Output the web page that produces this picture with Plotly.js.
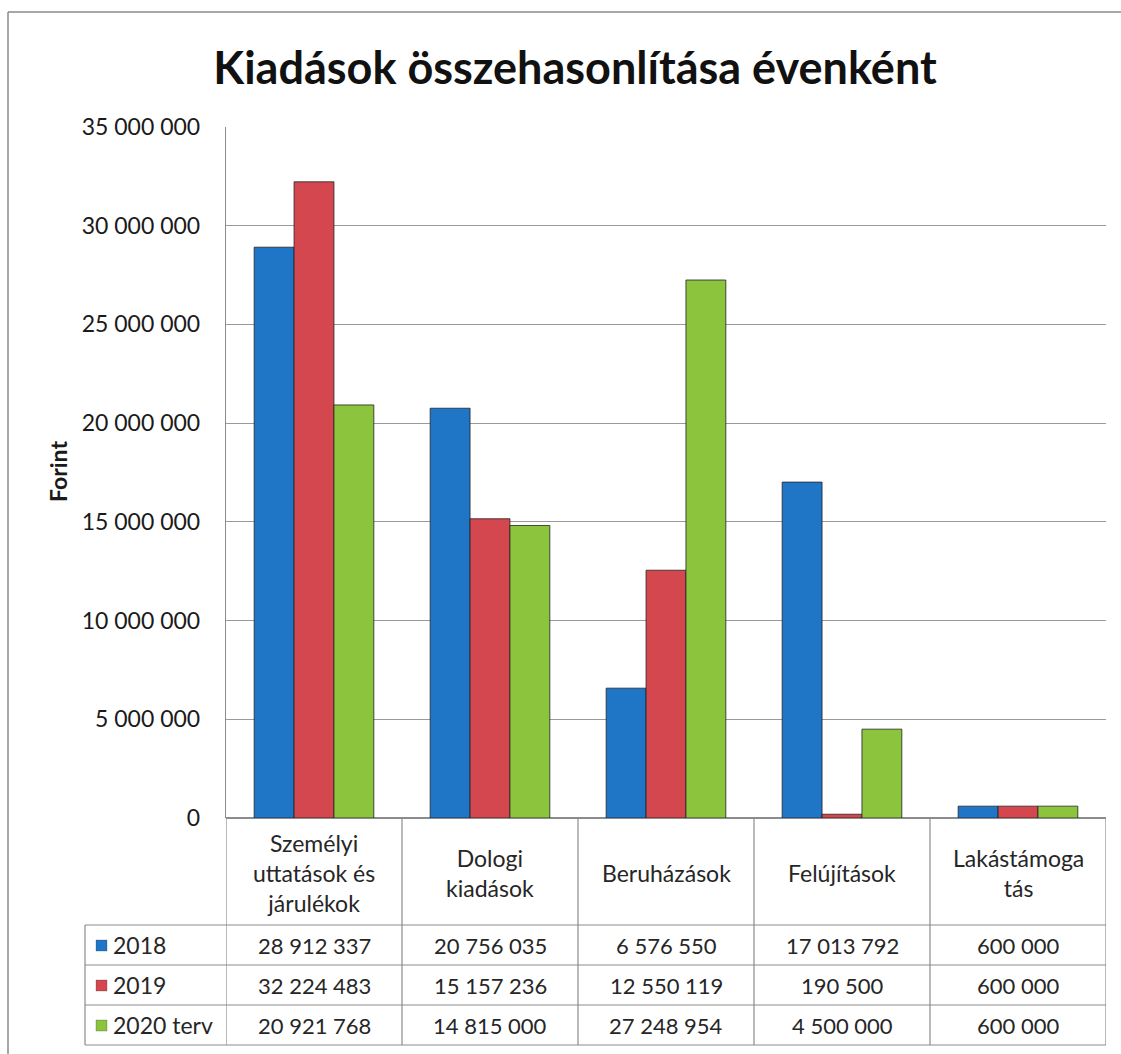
<!DOCTYPE html>
<html>
<head>
<meta charset="utf-8">
<script src="https://cdn.plot.ly/plotly-3.0.1.min.js"></script>
<style>
  html, body { margin: 0; padding: 0; background: #ffffff; }
  #chart { width: 1121px; height: 1054px; }
</style>
</head>
<body>
<div id="chart"></div>
<script>
// ---- data ----
const categories = ["Személyi uttatások és járulékok", "Dologi kiadások", "Beruházások", "Felújítások", "Lakástámogatás"];
const categoryLabels = ["Személyi<br>uttatások és<br>járulékok", "Dologi<br>kiadások", "Beruházások", "Felújítások", "Lakástámoga<br>tás"];
const seriesNames = ["2018", "2019", "2020 terv"];
const values2018 = [28912337, 20756035, 6576550, 17013792, 600000];
const values2019 = [32224483, 15157236, 12550119, 190500, 600000];
const values2020 = [20921768, 14815000, 27248954, 4500000, 600000];
const yTicks = [0, 5000000, 10000000, 15000000, 20000000, 25000000, 30000000, 35000000];

const seriesValues = [values2018, values2019, values2020];
const colors = ["#1f76c6", "#d4474e", "#8dc43e"];
const FONT = "Lato, 'Open Sans', sans-serif";

function fmt(v) {
  return String(v).replace(/\B(?=(\d{3})+(?!\d))/g, " ");
}

// pixel -> paper helpers (plot area: x 226..1106, y 127..818)
const L = 226, R = 1106, T = 127, B = 818;
const px = p => (p - L) / (R - L);
const py = p => (B - p) / (B - T);

const traces = seriesNames.map((name, i) => ({
  type: "bar",
  name: name,
  x: categories,
  y: seriesValues[i],
  marker: { color: colors[i], line: { color: "rgba(35,35,35,0.8)", width: 1 } },
  hoverinfo: "x+y+name"
}));

const shapes = [];
const annotations = [];
const gridColor = "#8c8c8c";

// table geometry
const headerBottom = 925;
const rowLines = [925, 965, 1005, 1045];
const legendLeft = 85;

// vertical column lines (category boundaries)
for (let k = 0; k <= categories.length; k++) {
  shapes.push({
    type: "line", xref: "x", yref: "paper",
    x0: k - 0.5, x1: k - 0.5, y0: 0, y1: py(rowLines[rowLines.length - 1]),
    line: { color: gridColor, width: 1.2 }
  });
}
// horizontal row lines
rowLines.forEach(r => {
  shapes.push({
    type: "line", xref: "paper", yref: "paper",
    x0: px(legendLeft), x1: 1, y0: py(r), y1: py(r),
    line: { color: gridColor, width: 1.2 }
  });
});
// legend column left border
shapes.push({
  type: "line", xref: "paper", yref: "paper",
  x0: px(legendLeft), x1: px(legendLeft), y0: py(headerBottom), y1: py(rowLines[rowLines.length - 1]),
  line: { color: gridColor, width: 1.2 }
});
// outer chart border (left and top)
shapes.push({
  type: "line", xref: "paper", yref: "paper",
  x0: px(8), x1: px(8), y0: py(12), y1: py(1060),
  line: { color: "#8a8a8a", width: 1.5 }
});
shapes.push({
  type: "line", xref: "paper", yref: "paper",
  x0: px(8), x1: px(1125), y0: py(12), y1: py(12),
  line: { color: "#8a8a8a", width: 1.5 }
});

// header labels
categories.forEach((c, j) => {
  annotations.push({
    xref: "x", yref: "paper", x: c, y: py(873),
    text: categoryLabels[j], showarrow: false,
    xanchor: "center", yanchor: "middle",
    font: { family: FONT, size: 23, color: "#262626" }
  });
});

// rows
const rowCenters = [945, 985, 1025];
seriesNames.forEach((name, i) => {
  // legend key
  shapes.push({
    type: "rect", xref: "paper", yref: "paper",
    x0: px(96), x1: px(107), y0: py(rowCenters[i] - 5), y1: py(rowCenters[i] + 6),
    fillcolor: colors[i], line: { color: "rgba(40,40,40,0.5)", width: 0.5 }
  });
  annotations.push({
    xref: "paper", yref: "paper", x: px(111), y: py(rowCenters[i]),
    text: name, showarrow: false, xanchor: "left", yanchor: "middle",
    font: { family: FONT, size: 23, color: "#262626" }
  });
  seriesValues[i].forEach((v, j) => {
    annotations.push({
      xref: "x", yref: "paper", x: categories[j], y: py(rowCenters[i]),
      text: fmt(v), showarrow: false, xanchor: "center", yanchor: "middle",
      font: { family: FONT, size: 22, color: "#262626" }
    });
  });
});

// y axis title
annotations.push({
  xref: "paper", yref: "paper", x: px(58), y: py(472),
  text: "<b>Forint</b>", textangle: -90, showarrow: false,
  xanchor: "center", yanchor: "middle",
  font: { family: FONT, size: 23, color: "#1a1a1a" }
});

const layout = {
  width: 1121, height: 1054,
  paper_bgcolor: "#ffffff", plot_bgcolor: "#ffffff",
  margin: { l: L, r: 1121 - R, t: T, b: 1054 - B, pad: 0 },
  separators: ", ",
  title: {
    text: "<b>Kiadások összehasonlítása évenként</b>",
    x: 575 / 1121, xanchor: "center",
    y: 1 - 68 / 1054, yanchor: "middle",
    font: { family: FONT, size: 45, color: "#111" }
  },
  showlegend: false,
  barmode: "group",
  bargap: 0.32,
  bargroupgap: 0,
  xaxis: {
    type: "category",
    range: [-0.5, categories.length - 0.5],
    showticklabels: false,
    showgrid: false,
    zeroline: false,
    showline: false,
    ticks: ""
  },
  yaxis: {
    range: [0, 35000000],
    tickvals: yTicks,
    tickformat: ",d",
    showgrid: true,
    gridcolor: "#9a9a9a",
    gridwidth: 1.2,
    zeroline: true,
    zerolinecolor: "#8c8c8c",
    zerolinewidth: 1.2,
    showline: true,
    linecolor: "#8c8c8c",
    linewidth: 1.2,
    ticks: "",
    ticklabelstandoff: 20,
    tickfont: { family: FONT, size: 23, color: "#1a1a1a" },
    automargin: false
  },
  shapes: shapes,
  annotations: annotations
};

Plotly.newPlot("chart", traces, layout, { displayModeBar: false, staticPlot: true });
</script>
</body>
</html>
